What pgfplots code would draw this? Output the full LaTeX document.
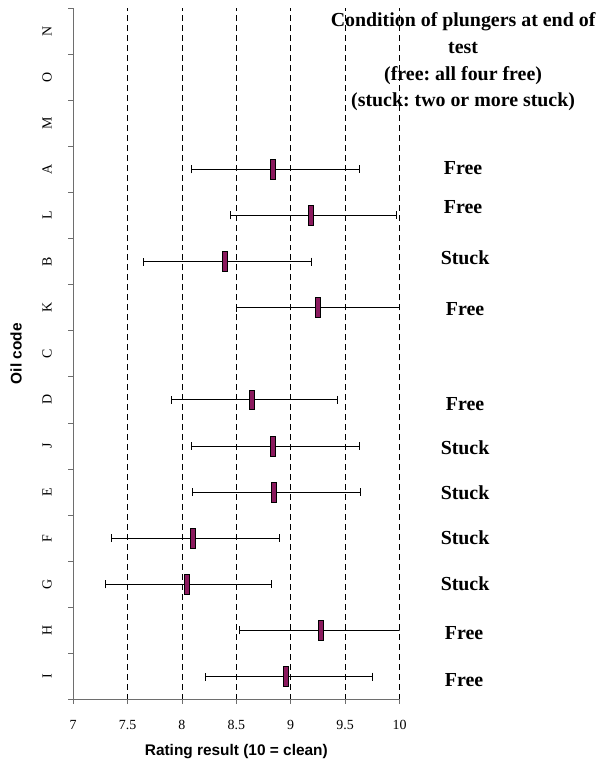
\documentclass[border=0pt]{standalone}
\usepackage{fontspec}
\setmainfont{Liberation Serif}
\setsansfont{Liberation Sans}
\usepackage{pgfplots}
\pgfplotsset{compat=1.18}
\usepackage{pgfplotstable}
\definecolor{mk}{RGB}{139,26,94}
\definecolor{ax}{RGB}{110,110,110}
\pgfdeclareplotmark{bx}{\pgfpathrectangle{\pgfpoint{-2.5bp}{-10bp}}{\pgfpoint{5bp}{20bp}}\pgfusepathqfillstroke}

% y: I=1 ... N=15 (bottom to top)
\pgfplotstableread{
y  x      xm     xp
12 8.835  0.749  0.795
11 9.187  0.740  0.789
10 8.398  0.748  0.795
9  9.248  0.749  0.790
7  8.642  0.743  0.786
6  8.832  0.746  0.798
5  8.847  0.746  0.793
4  8.098  0.746  0.795
3  8.043  0.746  0.783
2  9.275  0.742  0.790
1  8.960  0.746  0.792
}\data

\begin{document}
\frenchspacing
\begin{tikzpicture}[x=1bp,y=1bp]
\begin{scope}[shift={(-73.3,-61)}]
\useasboundingbox (0,0) rectangle (617,762);
\end{scope}
\begin{axis}[
  anchor=south west,
  scale only axis, width=327bp, height=693bp,
  xmin=7, xmax=10, ymin=0.5, ymax=15.5,
  axis x line*=bottom, axis y line*=left,
  axis line style={ax, line width=1pt},
  xtick={7,7.5,8,8.5,9,9.5,10},
  xticklabels={7,7.5,8,8.5,9,9.5,10},
  ytick={1,...,15},
  yticklabels={I,H,G,F,E,J,D,C,K,B,L,A,M,O,N},
  minor ytick={0.5,1.5,...,15.5},
  tick align=outside,
  major tick length=4bp, minor tick length=5bp,
  major x tick style={ax, line width=0.8pt},
  major y tick style={draw=none},
  minor y tick style={ax, line width=0.8pt},
  xmajorgrids=true,
  grid style={black, line width=0.7pt, dash pattern=on 6bp off 4bp},
  xticklabel style={font=\fontsize{14}{16}\selectfont, yshift=-13bp},
  yticklabel style={font=\fontsize{14}{16}\selectfont, xshift=-14bp, rotate=90, anchor=south},
  xlabel={Rating result (10 = clean)},
  ylabel={Oil code},
  xlabel style={font=\sffamily\bfseries\fontsize{15.5}{18}\selectfont, at={(axis description cs:0.5,-0.075)}, anchor=center},
  ylabel style={font=\sffamily\bfseries\fontsize{15.5}{18}\selectfont, at={(axis description cs:-0.175,0.5)}, anchor=center, rotate=0},
  clip=true,
]
\addplot[black, line width=0.8pt, draw=none, mark=none,
  error bars/.cd, x dir=both, x explicit,
  error bar style={black, line width=0.9pt},
  error mark options={black, mark size=4bp, line width=0.9pt, rotate=90}]
  table[x=x, y=y, x error plus=xp, x error minus=xm]{\data};
\addplot[only marks, mark=bx, mark options={fill=mk, draw=black, line width=0.8pt}]
  table[x=x, y=y]{\data};
\end{axis}
\begin{scope}[shift={(-73.3,-61)}]
\begin{scope}[every node/.style={font=\bfseries\fontsize{20}{24}\selectfont}]
\node at (464,{762-168}) {Free};
\node at (464,{762-207}) {Free};
\node at (466,{762-258}) {Stuck};
\node at (466,{762-310}) {Free};
\node at (466,{762-405}) {Free};
\node at (466,{762-449}) {Stuck};
\node at (466,{762-494}) {Stuck};
\node at (466,{762-539}) {Stuck};
\node at (466,{762-585}) {Stuck};
\node at (465,{762-634}) {Free};
\node at (465,{762-681}) {Free};
\end{scope}
\node[font=\bfseries\fontsize{20}{26.7}\selectfont, align=center] at (464,{762-62})
  {Condition of plungers at end of\\test\\(free: all four free)\\(stuck: two or more stuck)};
\end{scope}
\end{tikzpicture}
\end{document}
